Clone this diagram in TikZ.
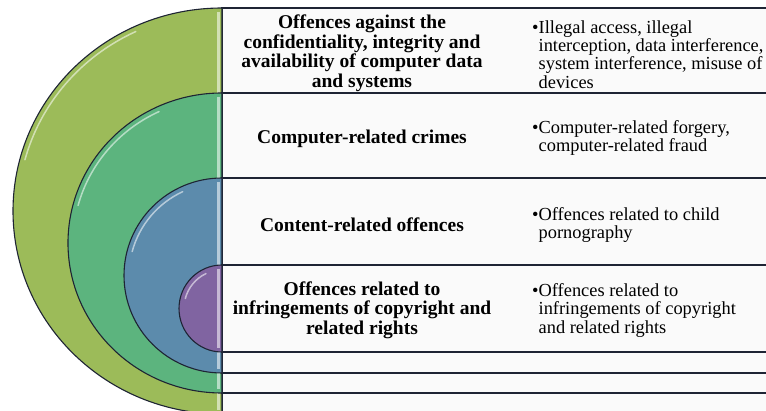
\documentclass[tikz,border=0pt]{standalone}
\usepackage{fontspec}
\setmainfont{Liberation Serif}
\usepackage{xcolor}
\usepackage{tikz}

\definecolor{olivedisc}{RGB}{156,187,89}
\definecolor{greendisc}{RGB}{92,180,126}
\definecolor{bluedisc}{RGB}{92,139,172}
\definecolor{purpledisc}{RGB}{128,100,161}
\definecolor{edge}{RGB}{30,36,52}

\newcommand{\rowbox}[2]{\filldraw[boxline] (222,#1) rectangle (775,#2)}
\newcommand{\halfdisc}[4]{%
  \filldraw[discline,fill=#1] (222,#2) arc[start angle=270,end angle=90,x radius=#4,y radius={(#3-#2)/2}] -- cycle;
  \draw[#1!45!white,line width=2.5pt] (218.5,#2+4) -- (218.5,#3-4);
  \draw[white,opacity=.55,line width=1.5pt,line cap=round] (222,{(#2+#3)/2}) ++(195:{#4-5} and {(#3-#2)/2-5})
    arc[start angle=195,end angle=245,x radius={#4-5},y radius={(#3-#2)/2-5}]}
\newcommand{\bul}[1]{\textbullet\begin{tabular}[t]{@{}l@{}}#1\end{tabular}}

\begin{document}
\begin{tikzpicture}[x=1pt,y=-1pt,
    boxline/.style={draw=edge,line width=1.1pt,fill=white!98!black},
    discline/.style={draw=edge,line width=1.1pt},
    title/.style={font=\bfseries\fontsize{19.5}{19.5}\selectfont,align=center,inner sep=0pt},
    desc/.style={font=\fontsize{18.4}{18.3}\selectfont,anchor=west,inner sep=0pt}]
  \useasboundingbox (0,0) rectangle (766,411);
  \clip (0,0) rectangle (766,411);

  \rowbox{8}{414};
  \halfdisc{olivedisc}{8}{414}{209};
  \rowbox{93}{393};
  \halfdisc{greendisc}{93}{393}{154};
  \rowbox{178}{373};
  \halfdisc{bluedisc}{178}{373}{98};
  \rowbox{265}{352};
  \halfdisc{purpledisc}{265}{352}{43};

  \node[title] (t1) at (362,53) {Offences against the\\confidentiality, integrity and\\availability of computer data\\and systems};
  \node[title] (t2) at (362,139) {Computer-related crimes};
  \node[title] (t3) at (362,225) {Content-related offences};
  \node[title] (t4) at (362,310) {Offences related to\\infringements of copyright and\\related rights};

  \node[desc] (d1) at (532,57) {\bul{Illegal access, illegal\\interception, data interference,\\system interference, misuse of\\devices}};
  \node[desc] (d2) at (532,139) {\bul{Computer-related forgery,\\computer-related fraud}};
  \node[desc] (d3) at (532,226) {\bul{Offences related to child\\pornography}};
  \node[desc] (d4) at (532,311) {\bul{Offences related to\\infringements of copyright\\and related rights}};
\end{tikzpicture}
\end{document}
